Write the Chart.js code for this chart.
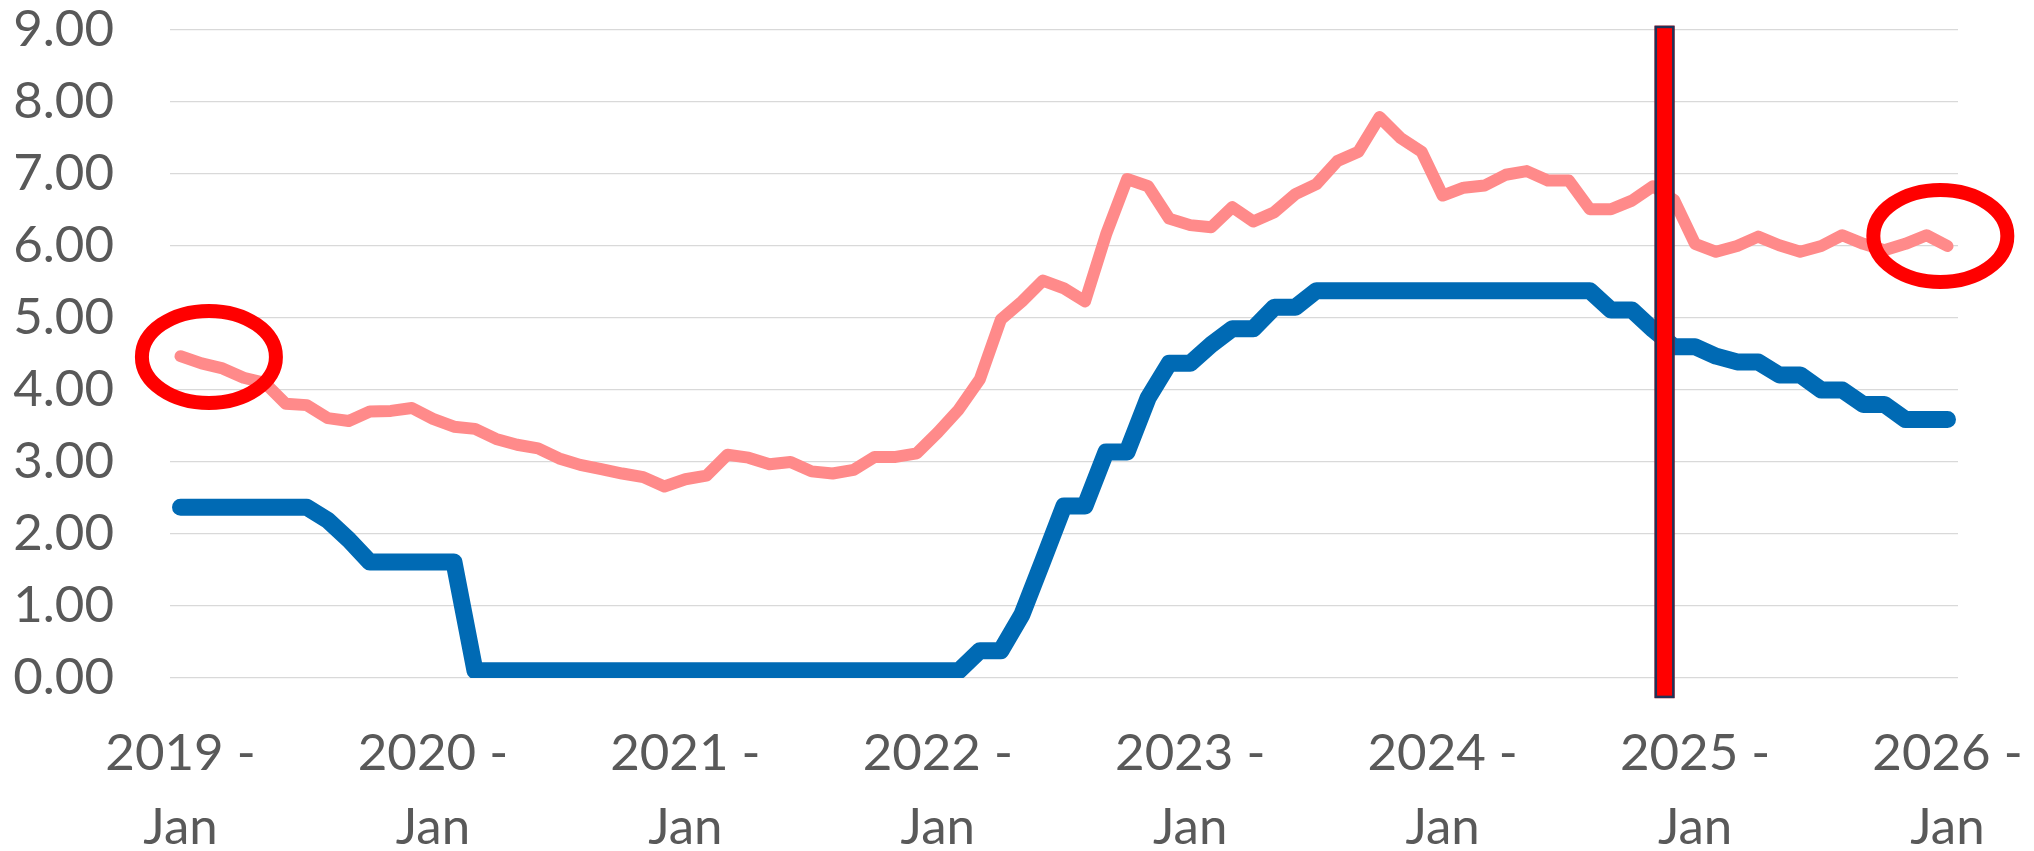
<!DOCTYPE html>
<html>
<head>
<meta charset="utf-8">
<title>Juros</title>
<script src="https://cdn.jsdelivr.net/npm/chart.js@4.4.1/dist/chart.umd.min.js"></script>
<style>
  html, body { margin: 0; padding: 0; background: #fff; }
  #wrapper { width: 2034px; height: 851px; }
</style>
</head>
<body>
<div id="wrapper"><canvas id="grafico"></canvas></div>
<script>
const years = [2019, 2020, 2021, 2022, 2023, 2024, 2025, 2026];
const monthNames = ['Jan', 'Feb', 'Mar', 'Apr', 'May', 'Jun', 'Jul', 'Aug', 'Sep', 'Oct', 'Nov', 'Dec'];

// blue series (Jan 2019 .. Jan 2026)
const fedFunds = [
  2.37, 2.37, 2.37, 2.37, 2.37, 2.37, 2.37, 2.19, 1.92, 1.61, 1.61, 1.61,
  1.61, 1.61, 0.10, 0.10, 0.10, 0.10, 0.10, 0.10, 0.10, 0.10, 0.10, 0.10,
  0.10, 0.10, 0.10, 0.10, 0.10, 0.10, 0.10, 0.10, 0.10, 0.10, 0.10, 0.10,
  0.10, 0.10, 0.38, 0.38, 0.88, 1.63, 2.39, 2.39, 3.14, 3.14, 3.89, 4.37,
  4.37, 4.63, 4.85, 4.85, 5.15, 5.15, 5.38, 5.38, 5.38, 5.38, 5.38, 5.38,
  5.38, 5.38, 5.38, 5.38, 5.38, 5.38, 5.38, 5.38, 5.11, 5.11, 4.84, 4.60,
  4.60, 4.47, 4.39, 4.39, 4.21, 4.21, 4.00, 4.00, 3.80, 3.80, 3.59, 3.59,
  3.59
];

// pink series
const mortgage = [
  4.47, 4.37, 4.30, 4.17, 4.10, 3.81, 3.79, 3.61, 3.57, 3.70, 3.71, 3.75,
  3.60, 3.49, 3.46, 3.32, 3.24, 3.19, 3.05, 2.96, 2.90, 2.84, 2.79, 2.66,
  2.76, 2.81, 3.10, 3.06, 2.97, 3.00, 2.87, 2.84, 2.89, 3.07, 3.07, 3.12,
  3.41, 3.73, 4.15, 4.98, 5.23, 5.52, 5.41, 5.23, 6.16, 6.93, 6.83, 6.38,
  6.29, 6.26, 6.54, 6.34, 6.47, 6.72, 6.86, 7.18, 7.31, 7.79, 7.50, 7.31,
  6.70, 6.81, 6.84, 6.99, 7.04, 6.91, 6.91, 6.51, 6.51, 6.63, 6.83, 6.64,
  6.03, 5.92, 6.00, 6.13, 6.01, 5.92, 6.00, 6.15, 6.03, 5.94, 6.03, 6.15,
  6.00
];

// red marker bar between Nov and Dec 2024, and the two circled spots
const highlightMonth = 70.55;
const highlightRange = [-0.28, 9.06];
const circled = [
  { month: 1.35, value: 4.46 },
  { month: 83.66, value: 6.14 }
];

const labels = [];
years.forEach(ano => {
  monthNames.forEach(mes => {
    if (labels.length < fedFunds.length) labels.push([ano + ' -', mes]);
  });
});

const marcas = {
  id: 'marcas',
  afterDatasetsDraw(chart) {
    const { ctx, scales: { x, y } } = chart;
    ctx.save();

    const cx = x.getPixelForValue(highlightMonth);
    const top = y.getPixelForValue(highlightRange[1]);
    const bottom = y.getPixelForValue(highlightRange[0]);
    ctx.fillStyle = '#ff0000';
    ctx.fillRect(cx - 10, top, 20, bottom - top);
    ctx.strokeStyle = '#1f3358';
    ctx.lineWidth = 2.5;
    ctx.strokeRect(cx - 8.75, top + 1.25, 17.5, bottom - top - 2.5);

    ctx.strokeStyle = '#ff0000';
    ctx.lineWidth = 14;
    circled.forEach(p => {
      ctx.beginPath();
      ctx.ellipse(x.getPixelForValue(p.month), y.getPixelForValue(p.value), 67, 46, 0, 0, Math.PI * 2);
      ctx.stroke();
    });
    ctx.restore();
  }
};

const fonte = { family: 'Lato', size: 51 };

new Chart(document.getElementById('grafico'), {
  type: 'line',
  data: {
    labels: labels,
    datasets: [
      {
        label: 'Mortgage',
        data: mortgage,
        borderColor: '#ff8a8a',
        borderWidth: 12,
        borderCapStyle: 'round',
        borderJoinStyle: 'round',
        pointRadius: 0,
        tension: 0,
        order: 2
      },
      {
        label: 'Fed funds',
        data: fedFunds,
        borderColor: '#006ab4',
        borderWidth: 17,
        borderCapStyle: 'round',
        borderJoinStyle: 'round',
        pointRadius: 0,
        tension: 0,
        order: 1
      }
    ]
  },
  options: {
    responsive: true,
    maintainAspectRatio: false,
    animation: false,
    layout: { padding: { top: 30, right: 76, left: 0, bottom: 0 } },
    plugins: {
      legend: { display: false },
      tooltip: { enabled: false }
    },
    scales: {
      x: {
        offset: true,
        grid: { display: false, drawTicks: false },
        border: { display: false },
        ticks: {
          autoSkip: false,
          maxRotation: 0,
          minRotation: 0,
          padding: 39,
          color: '#595959',
          font: { family: 'Lato', size: 51, lineHeight: 1.45 },
          callback: function (value, index) {
            return index % 12 === 0 ? this.getLabelForValue(value) : null;
          }
        },
        afterFit: s => {
          s.height = 173;
          s.paddingLeft = 0;
          s.paddingRight = 0;
        }
      },
      y: {
        min: 0,
        max: 9,
        grid: { color: '#d9d9d9', lineWidth: 1.3, drawTicks: false },
        border: { display: false },
        ticks: {
          stepSize: 1,
          padding: 56,
          color: '#595959',
          font: fonte,
          callback: v => v.toFixed(2)
        },
        afterFit: s => {
          s.width = 170;
          s.paddingTop = 0;
          s.paddingBottom = 0;
        }
      }
    }
  },
  plugins: [marcas]
});
</script>
</body>
</html>
